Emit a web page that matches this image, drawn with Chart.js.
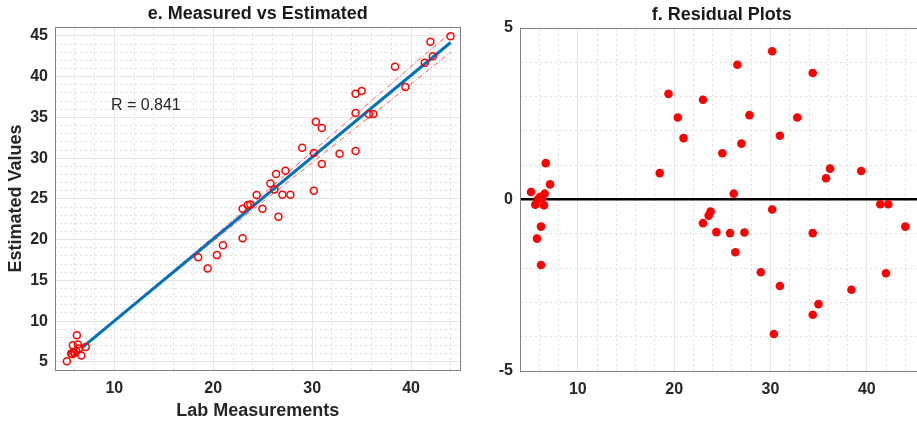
<!DOCTYPE html>
<html>
<head>
<meta charset="utf-8">
<script src="https://cdn.jsdelivr.net/npm/chart.js@4"></script>
<style>
  html, body { margin: 0; padding: 0; background: #fff; overflow: hidden; width: 917px; height: 424px; }
  canvas { position: absolute; top: 0; }
  #chart-fit { left: 0; }
  #chart-resid { left: 462px; }
</style>
</head>
<body>
<canvas id="chart-fit" width="466" height="424"></canvas>
<canvas id="chart-resid" width="466" height="424"></canvas>
<script>
// panel e: lab measurement vs estimated value
const measured = [
    5.2, 5.74, 5.98, 5.8, 6.21, 6.31, 6.15, 6.41, 6.66, 7.1, 5.88, 5.64,
    18.48, 19.43, 20.37, 20.98, 22.97, 22.97, 23.48, 23.75, 24.39, 24.97,
    25.78, 26.18, 26.35, 26.59, 26.99, 27.3, 27.8, 28.99, 30.17, 30.17,
    30.37, 30.98, 30.98, 32.77, 34.39, 34.39, 34.39, 35.0, 35.74, 36.18,
    38.38, 39.43, 41.39, 41.96, 42.2, 43.99
];
const estimated = [
    5.07, 5.93, 6.09, 7.04, 8.27, 7.13, 6.3, 6.63, 5.77, 6.83, 6.22, 6.02,
    17.85, 16.46, 18.1, 19.32, 20.18, 23.79, 24.24, 24.32, 25.47, 23.79,
    26.9, 26.16, 28.05, 22.8, 25.5, 28.46, 25.5, 31.28, 30.63, 26.0,
    34.48, 33.7, 29.28, 30.54, 30.87, 35.54, 37.92, 38.24, 35.38, 35.42,
    41.23, 38.73, 41.72, 44.3, 42.5, 44.96
];

// fitted line and its dash-dot bounds
const fitX = [6.8, 44];
const fitY = [6.8, 44.2];
const boundX = [6.8, 10, 15, 20, 25, 30, 35, 40, 44];
const boundUpper = [6.85, 10.13, 15.21, 20.33, 25.55, 30.8, 36.0, 41.25, 45.4];
const boundLower = [6.75, 9.93, 14.91, 19.83, 24.65, 29.45, 34.3, 39.1, 43.0];

const rText = 'R = 0.841';
const rLabelAt = [9.65, 36.4];

// panel f: residuals
const residX = [
    5.14, 6.67, 7.12, 6.56, 5.59, 6.49, 6.18, 5.76, 6.18, 5.83, 6.08, 6.3,
    18.5, 19.41, 20.38, 20.97, 22.99, 22.99, 23.58, 23.78, 24.38, 25.0,
    25.8, 26.18, 26.35, 26.56, 26.98, 27.29, 27.81, 28.99, 30.17, 30.17,
    30.35, 30.97, 30.97, 32.78, 34.38, 34.38, 34.38, 34.97, 35.76, 36.18,
    38.4, 39.41, 41.39, 41.98, 42.22, 43.99
];
const residY = [
    0.22, 1.06, 0.44, 0.17, -0.15, -0.17, -0.79, -1.14, -1.91, 0.0, 0.08, 0.05,
    0.77, 3.08, 2.39, 1.79, 2.91, -0.69, -0.47, -0.35, -0.95, 1.35,
    -0.98, 0.17, -1.54, 3.93, 1.63, -0.96, 2.46, -2.12, 4.32, -0.29,
    -3.92, 1.86, -2.52, 2.39, 3.69, -0.98, -3.36, -3.05, 0.62, 0.9,
    -2.63, 0.83, -0.14, -2.15, -0.14, -0.79
];

const xMajor = [10, 20, 30, 40];
const yMajorFit = [5, 10, 15, 20, 25, 30, 35, 40, 45];
const yMajorResid = [-5, 0, 5];

Chart.defaults.font.family = '"Liberation Sans", Arial, sans-serif';
Chart.defaults.color = '#262626';

const FONT = '"Liberation Sans", Arial, sans-serif';
const tickFont = { family: FONT, size: 16, weight: 'bold' };
const labelFont = { family: FONT, size: 18, weight: 'bold' };
const majorGrid = '#e4e4e4';
const minorGrid = '#dedede';
const axisColor = '#808080';

function minorValues(from, to, step, majors) {
    const out = [];
    for (let v = from; v <= to + 1e-9; v += step) {
        if (!majors.includes(v)) out.push({ value: v });
    }
    return out;
}

function fixedTicks(values) {
    return scale => { scale.ticks = values.map(v => ({ value: v })); };
}

function minorAxis(position, min, max, ticks) {
    return {
        type: 'linear',
        position: position,
        min: min,
        max: max,
        afterBuildTicks: scale => { scale.ticks = ticks; },
        afterFit: scale => {
            if (position === 'top' || position === 'bottom') scale.height = 0;
            else scale.width = 0;
        },
        ticks: { display: false },
        grid: { color: minorGrid, lineWidth: 1, drawTicks: false },
        border: { display: true, color: axisColor, width: 1, dash: [2, 3] }
    };
}

const rLabelPlugin = {
    id: 'rLabel',
    afterDatasetsDraw(chart) {
        const { ctx, scales } = chart;
        ctx.save();
        ctx.font = '16px ' + FONT;
        ctx.fillStyle = '#262626';
        ctx.textBaseline = 'middle';
        ctx.fillText(rText, scales.x.getPixelForValue(rLabelAt[0]), scales.y.getPixelForValue(rLabelAt[1]));
        ctx.restore();
    }
};

const toPoints = (xs, ys) => xs.map((x, i) => ({ x: x, y: ys[i] }));

const fitCtx = document.getElementById('chart-fit');
new Chart(fitCtx, {
    type: 'scatter',
    data: {
        datasets: [{
            label: 'Samples',
            data: toPoints(measured, estimated),
            pointStyle: 'circle',
            pointRadius: 3.5,
            backgroundColor: 'rgba(0,0,0,0)',
            borderColor: '#ff0000',
            borderWidth: 1.5
        }, {
            label: 'Fit',
            data: toPoints(fitX, fitY),
            showLine: true,
            pointRadius: 0,
            borderColor: '#0072bd',
            borderWidth: 3
        }, {
            label: 'Upper',
            data: toPoints(boundX, boundUpper),
            showLine: true,
            pointRadius: 0,
            borderColor: 'rgba(255, 0, 0, 0.65)',
            borderWidth: 1,
            borderDash: [5, 2, 1, 2]
        }, {
            label: 'Lower',
            data: toPoints(boundX, boundLower),
            showLine: true,
            pointRadius: 0,
            borderColor: 'rgba(255, 0, 0, 0.65)',
            borderWidth: 1,
            borderDash: [5, 2, 1, 2]
        }]
    },
    options: {
        responsive: false,
        devicePixelRatio: 1,
        animation: false,
        layout: { padding: { left: 0, right: 2, top: 0, bottom: 0 } },
        plugins: {
            legend: { display: false },
            tooltip: { enabled: false },
            title: {
                display: true,
                text: 'e. Measured vs Estimated',
                fullSize: false,
                color: '#1a1a1a',
                font: labelFont,
                padding: { top: 3, bottom: 2.4 }
            }
        },
        scales: {
            xMinor: minorAxis('top', 4, 45, minorValues(6, 44, 2, xMajor)),
            yMinor: minorAxis('right', 4, 46.1, minorValues(5, 46, 1, yMajorFit)),
            x: {
                type: 'linear',
                position: 'bottom',
                min: 4,
                max: 45,
                afterBuildTicks: fixedTicks(xMajor),
                afterFit: scale => { scale.height = 54; },
                grid: { color: majorGrid, lineWidth: 1, drawTicks: false },
                border: { color: axisColor, width: 1 },
                ticks: { padding: 9, color: '#262626', font: tickFont },
                title: {
                    display: true,
                    text: 'Lab Measurements',
                    color: '#262626',
                    font: labelFont,
                    padding: { top: 0, bottom: 2 }
                }
            },
            y: {
                type: 'linear',
                position: 'left',
                min: 4,
                max: 46.1,
                afterBuildTicks: fixedTicks(yMajorFit),
                afterFit: scale => { scale.width = 55; },
                grid: { color: majorGrid, lineWidth: 1, drawTicks: false },
                border: { color: axisColor, width: 1 },
                ticks: { padding: 7, color: '#262626', font: tickFont },
                title: {
                    display: true,
                    text: 'Estimated Values',
                    color: '#262626',
                    font: labelFont,
                    padding: { top: 5, bottom: 0 }
                }
            }
        }
    },
    plugins: [rLabelPlugin]
});

const residCtx = document.getElementById('chart-resid');
new Chart(residCtx, {
    type: 'scatter',
    data: {
        datasets: [{
            label: 'Residuals',
            data: toPoints(residX, residY),
            pointStyle: 'circle',
            pointRadius: 4.3,
            backgroundColor: '#ff0000',
            borderWidth: 0
        }]
    },
    options: {
        responsive: false,
        devicePixelRatio: 1,
        animation: false,
        layout: { padding: { left: 0, right: 0, top: 0, bottom: 0 } },
        plugins: {
            legend: { display: false },
            tooltip: { enabled: false },
            title: {
                display: true,
                text: 'f. Residual Plots',
                fullSize: false,
                color: '#1a1a1a',
                font: labelFont,
                padding: { top: 4, bottom: 2.4 }
            }
        },
        scales: {
            xMinor: minorAxis('top', 4, 45.9, minorValues(6, 44, 2, xMajor)),
            yMinor: minorAxis('right', -5, 5, minorValues(-4, 4, 1, yMajorResid)),
            x: {
                type: 'linear',
                position: 'bottom',
                min: 4,
                max: 45.9,
                afterBuildTicks: fixedTicks(xMajor),
                afterFit: scale => { scale.height = 53; },
                grid: { color: majorGrid, lineWidth: 1, drawTicks: false },
                border: { color: axisColor, width: 1 },
                ticks: { padding: 9, color: '#262626', font: tickFont }
            },
            y: {
                type: 'linear',
                position: 'left',
                min: -5,
                max: 5,
                afterBuildTicks: fixedTicks(yMajorResid),
                afterFit: scale => { scale.width = 58; },
                grid: {
                    color: c => (c.tick && c.tick.value === 0 ? '#000000' : majorGrid),
                    lineWidth: c => (c.tick && c.tick.value === 0 ? 2.5 : 1),
                    drawTicks: false
                },
                border: { color: axisColor, width: 1 },
                ticks: { padding: 7, color: '#262626', font: tickFont }
            }
        }
    }
});
</script>
</body>
</html>
